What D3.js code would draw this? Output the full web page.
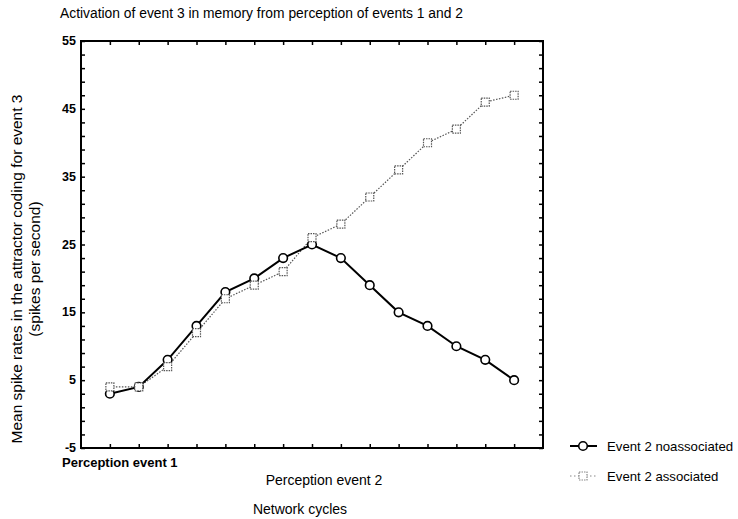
<!DOCTYPE html>
<html><head><meta charset="utf-8">
<script src="https://cdn.jsdelivr.net/npm/d3@7"></script>
<style>body{margin:0;background:#fff}svg{display:block}text{font-family:"Liberation Sans",Arial,sans-serif}</style>
</head><body><svg id="c" width="738" height="519"></svg>
<script>
const cycles = [1,2,3,4,5,6,7,8,9,10,11,12,13,14,15];
const noassociated = [3,4,8,13,18,20,23,25,23,19,15,13,10,8,5];
const associated = [4,4,7,12,17,19,21,26,28,32,36,40,42,46,47];
const yTicks = [-5,5,15,25,35,45,55];
const seriesNames = ["Event 2 noassociated","Event 2 associated"];

const svg = d3.select("#c");
const L=81,R=543,T=41,B=448;
const x = d3.scaleLinear().domain([0,16]).range([L,R]);
const y = d3.scaleLinear().domain([-5,55]).range([B,T]);

// frame
svg.append("rect").attr("x",L).attr("y",T).attr("width",R-L).attr("height",B-T)
  .attr("fill","none").attr("stroke","#000").attr("stroke-width",2);

// ticks inward
const minor = d3.range(-5,56,2);
svg.append("g").attr("transform",`translate(${L},0)`)
  .call(d3.axisRight(y).tickValues(minor).tickSize(4).tickFormat(""))
  .call(g=>g.select(".domain").remove()).selectAll("line").attr("stroke-width",1.5);
svg.append("g").attr("transform",`translate(${R},0)`)
  .call(d3.axisLeft(y).tickValues(minor).tickSize(4).tickFormat(""))
  .call(g=>g.select(".domain").remove()).selectAll("line").attr("stroke-width",1.5);
svg.append("g").attr("transform",`translate(0,${B})`)
  .call(d3.axisTop(x).tickValues(cycles).tickSize(4).tickFormat(""))
  .call(g=>g.select(".domain").remove()).selectAll("line").attr("stroke-width",1.5);
svg.append("g").attr("transform",`translate(0,${T})`)
  .call(d3.axisBottom(x).tickValues(cycles).tickSize(4).tickFormat(""))
  .call(g=>g.select(".domain").remove()).selectAll("line").attr("stroke-width",1.5);

// y labels
svg.append("g").selectAll("text").data(yTicks).join("text")
  .attr("x",L-5).attr("y",d=>y(d)+4).attr("text-anchor","end")
  .attr("font-size",12.5).attr("font-weight","bold").text(d=>d);

// lines
const line = d3.line().x((d,i)=>x(cycles[i])).y(d=>y(d));
svg.append("path").datum(associated).attr("d",line).attr("fill","none")
  .attr("stroke","#555").attr("stroke-width",1.2).attr("stroke-dasharray","1.5,1.5");
svg.append("path").datum(noassociated).attr("d",line).attr("fill","none")
  .attr("stroke","#000").attr("stroke-width",2);
svg.append("g").selectAll("circle").data(noassociated).join("circle")
  .attr("cx",(d,i)=>x(cycles[i])).attr("cy",d=>y(d)).attr("r",4.3)
  .attr("fill","#fff").attr("stroke","#000").attr("stroke-width",1.6);
svg.append("g").selectAll("rect").data(associated).join("rect")
  .attr("x",(d,i)=>x(cycles[i])-4).attr("y",d=>y(d)-4).attr("width",8).attr("height",8)
  .attr("fill","#fff").attr("stroke","#555").attr("stroke-width",1.2).attr("stroke-dasharray","1.5,1");

// texts
svg.append("text").attr("x",60).attr("y",18).attr("font-size",14)
  .attr("textLength",403).attr("lengthAdjust","spacingAndGlyphs")
  .text("Activation of event 3 in memory from perception of events 1 and 2");
svg.append("text").attr("transform","translate(22,269) rotate(-90)")
  .attr("text-anchor","middle").attr("font-size",15.5)
  .text("Mean spike rates in the attractor coding for event 3");
svg.append("text").attr("transform","translate(40,269) rotate(-90)")
  .attr("text-anchor","middle").attr("font-size",15.5)
  .text("(spikes per second)");
svg.append("text").attr("x",62).attr("y",467).attr("font-size",13).attr("font-weight","bold").text("Perception event 1");
svg.append("text").attr("x",324).attr("y",485).attr("text-anchor","middle").attr("font-size",14).text("Perception event 2");
svg.append("text").attr("x",300).attr("y",514).attr("text-anchor","middle").attr("font-size",14).text("Network cycles");

// legend
const lg = svg.append("g");
lg.append("line").attr("x1",570).attr("x2",597).attr("y1",446).attr("y2",446).attr("stroke","#000").attr("stroke-width",2);
lg.append("circle").attr("cx",583).attr("cy",446).attr("r",4.3).attr("fill","#fff").attr("stroke","#000").attr("stroke-width",1.6);
lg.append("line").attr("x1",570).attr("x2",597).attr("y1",476).attr("y2",476).attr("stroke","#888").attr("stroke-width",1.2).attr("stroke-dasharray","1.5,2.5");
lg.append("rect").attr("x",579).attr("y",472).attr("width",8).attr("height",8).attr("fill","#fff").attr("stroke","#888").attr("stroke-width",1.2).attr("stroke-dasharray","1.5,1");
lg.selectAll("text").data(seriesNames).join("text").attr("x",607).attr("y",(d,i)=>451+i*30)
  .attr("font-size",13.2).text(d=>d);
</script></body></html>
